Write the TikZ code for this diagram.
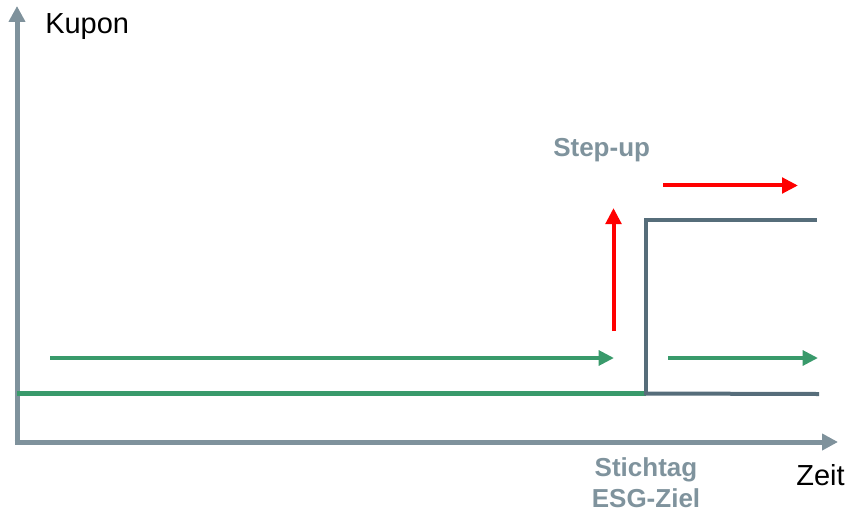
\documentclass[tikz,border=0pt]{standalone}
\usepackage{fontspec}
\setmainfont{Liberation Sans}
\usetikzlibrary{arrows.meta}
\definecolor{axisgray}{HTML}{7F929C}
\definecolor{labgray}{HTML}{7F939D}
\definecolor{kgreen}{HTML}{399A6B}
\definecolor{kdark}{HTML}{566D7A}
\definecolor{kred}{HTML}{FF0000}
\tikzset{
  axis/.style={draw=axisgray, line width=3.75pt, -{Triangle[length=12pt,width=12pt]}},
  greenline/.style={draw=kgreen, line width=3.75pt},
  darkline/.style={draw=kdark, line width=3pt},
  greenarrow/.style={draw=kgreen, line width=3pt, -{Triangle[length=11.5pt,width=11pt]}},
  redarrow/.style={draw=kred, line width=3pt, -{Triangle[length=12pt,width=11.5pt]}},
  blacklab/.style={inner sep=0pt, text=black, font=\fontsize{21.75pt}{24pt}\selectfont},
  graylab/.style={inner sep=0pt, text=labgray, font=\bfseries\fontsize{19.5pt}{24pt}\selectfont}
}
\begin{document}
\begin{tikzpicture}[x=0.75pt,y=-0.75pt]
\useasboundingbox (0,0) rectangle (848,513);
% coordinates
\coordinate (O) at (17,442);
\coordinate (Ytip) at (17,6);
\coordinate (Xstart) at (14.5,442);
\coordinate (Xtip) at (838,442);
\coordinate (G0) at (17,393.5);
\coordinate (G1) at (646,393.5);
\coordinate (D1) at (817,394);
\coordinate (D2) at (646,220);
\coordinate (D3) at (817,220);
\coordinate (GA0) at (50,358);
\coordinate (GA1) at (614,358);
\coordinate (GB0) at (668,358);
\coordinate (GB1) at (818,358);
\coordinate (RV0) at (613.5,331);
\coordinate (RV1) at (613.5,208);
\coordinate (RH0) at (663,185.5);
\coordinate (RH1) at (798,185.5);
% axes
\draw[axis] (O) -- (Ytip);
\draw[axis] (Xstart) -- (Xtip);
% coupon lines
\draw[greenline] (G0) -- (G1);
\draw[darkline, line cap=rect] (G1) -- (D1);
\draw[darkline] (G1 |- D1) -- (D2) -- (D3);
% arrows
\draw[greenarrow] (GA0) -- (GA1);
\draw[greenarrow] (GB0) -- (GB1);
\draw[redarrow] (RV0) -- (RV1);
\draw[redarrow] (RH0) -- (RH1);
% labels
\node[blacklab, anchor=base west] (kupon) at (45,34) {Kupon};
\node[blacklab, anchor=base west] (zeit) at (796,485) {Zeit};
\node[graylab, anchor=base west] (stepup) at (553,157) {Step-up};
\node[graylab, anchor=base] (stichtag) at (646,476) {Stichtag};
\node[graylab, anchor=base] (esg) at (646,507) {ESG-Ziel};
\end{tikzpicture}
\end{document}
